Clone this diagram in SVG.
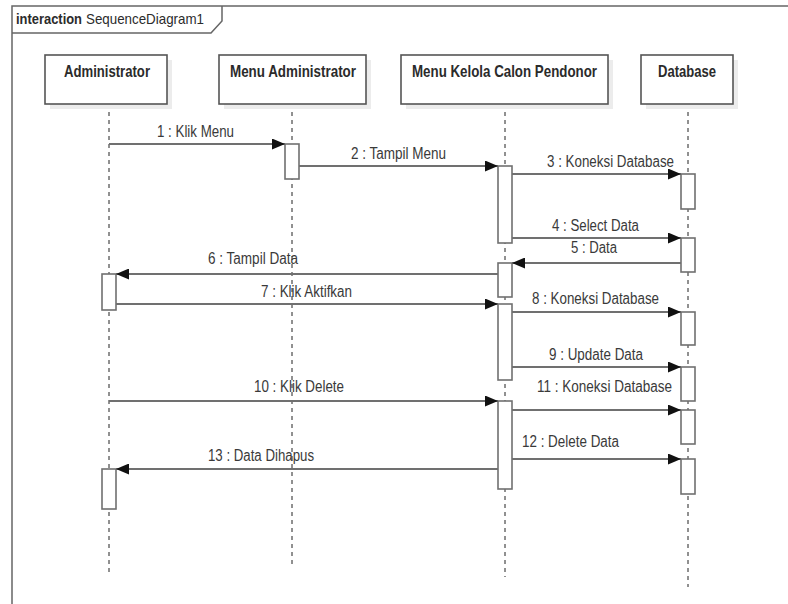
<svg xmlns="http://www.w3.org/2000/svg" width="788" height="604" viewBox="0 0 788 604">
<style>
text{font-family:"Liberation Sans Narrow","Liberation Sans",Arial,sans-serif;fill:#2b2b2b}
.hd{font-size:17px;font-weight:bold;text-anchor:start}
.lb{font-size:16px;fill:#3a3a3a}
.box{fill:#fff;stroke:#555;stroke-width:1.6}
.shadow{fill:#ececec}
.life{stroke:#222;stroke-width:1;stroke-dasharray:4 4;fill:none}
.act{fill:#fff;stroke:#707070;stroke-width:1.6}
.msg{stroke:#707070;stroke-width:2;fill:none;marker-end:url(#arr)}
.frame{fill:none;stroke:#666;stroke-width:1.5}
</style>
<defs>
<marker id="arr" markerUnits="userSpaceOnUse" markerWidth="13" markerHeight="11" refX="13" refY="5.5" orient="auto">
<path d="M0,0 L13,5.5 L0,11 z" fill="#111"/>
</marker>
</defs>
<rect width="788" height="604" fill="#fff"/>
<g id="frame">
<path class="frame" d="M12,604 L12,6 L788,6"/>
<path class="frame" d="M12,33 L211,33 L222,21 L222,6"/>
<text x="16" y="24" style="font-size:15px;font-weight:bold" textLength="66" lengthAdjust="spacingAndGlyphs">interaction</text>
<text x="86" y="24" style="font-size:15px" textLength="118" lengthAdjust="spacingAndGlyphs">SequenceDiagram1</text>
</g>
<g id="lifelines">
<line class="life" x1="109" y1="104" x2="109" y2="575"/>
<line class="life" x1="292" y1="104" x2="292" y2="567"/>
<line class="life" x1="505" y1="104" x2="505" y2="577"/>
<line class="life" x1="688" y1="104" x2="688" y2="587"/>
</g>
<g id="administrator">
<rect class="shadow" x="50" y="60" width="122" height="49"/>
<rect class="box" x="45" y="55" width="122" height="49"/>
<text class="hd" x="64" y="77" textLength="86" lengthAdjust="spacingAndGlyphs">Administrator</text>
</g>
<g id="menu-administrator">
<rect class="shadow" x="224" y="60" width="147" height="49"/>
<rect class="box" x="219" y="55" width="147" height="49"/>
<text class="hd" x="230" y="77" textLength="126" lengthAdjust="spacingAndGlyphs">Menu Administrator</text>
</g>
<g id="menu-kelola-calon-pendonor">
<rect class="shadow" x="406" y="60" width="207" height="49"/>
<rect class="box" x="401" y="55" width="207" height="49"/>
<text class="hd" x="412" y="77" textLength="185" lengthAdjust="spacingAndGlyphs">Menu Kelola Calon Pendonor</text>
</g>
<g id="database">
<rect class="shadow" x="646" y="60" width="92" height="49"/>
<rect class="box" x="641" y="55" width="92" height="49"/>
<text class="hd" x="658" y="77" textLength="58" lengthAdjust="spacingAndGlyphs">Database</text>
</g>
<g id="activations">
<rect class="act" x="285" y="144" width="14" height="35"/>
<rect class="act" x="498" y="166" width="14" height="77"/>
<rect class="act" x="498" y="263" width="14" height="34"/>
<rect class="act" x="498" y="304" width="14" height="76"/>
<rect class="act" x="498" y="401" width="14" height="88"/>
<rect class="act" x="681" y="174" width="14" height="35"/>
<rect class="act" x="681" y="238" width="14" height="34"/>
<rect class="act" x="681" y="312" width="14" height="33"/>
<rect class="act" x="681" y="367" width="14" height="34"/>
<rect class="act" x="681" y="410" width="14" height="34"/>
<rect class="act" x="681" y="459" width="14" height="35"/>
<rect class="act" x="102" y="274" width="14" height="36"/>
<rect class="act" x="102" y="469" width="14" height="40"/>
</g>
<g id="connectors">
<line class="msg" x1="109" y1="144" x2="285" y2="144"/>
<line class="msg" x1="299" y1="166" x2="498" y2="166"/>
<line class="msg" x1="512" y1="174" x2="681" y2="174"/>
<line class="msg" x1="512" y1="238" x2="681" y2="238"/>
<line class="msg" x1="681" y1="263" x2="512" y2="263"/>
<line class="msg" x1="498" y1="274" x2="116" y2="274"/>
<line class="msg" x1="116" y1="304" x2="498" y2="304"/>
<line class="msg" x1="512" y1="312" x2="681" y2="312"/>
<line class="msg" x1="512" y1="367" x2="681" y2="367"/>
<line class="msg" x1="109" y1="401" x2="498" y2="401"/>
<line class="msg" x1="512" y1="410" x2="681" y2="410"/>
<line class="msg" x1="512" y1="459" x2="681" y2="459"/>
<line class="msg" x1="498" y1="469" x2="116" y2="469"/>
</g>
<g id="labels">
<text class="lb" x="157" y="137" textLength="77" lengthAdjust="spacingAndGlyphs">1 : Klik Menu</text>
<text class="lb" x="351" y="159" textLength="95" lengthAdjust="spacingAndGlyphs">2 : Tampil Menu</text>
<text class="lb" x="547" y="167" textLength="127" lengthAdjust="spacingAndGlyphs">3 : Koneksi Database</text>
<text class="lb" x="552" y="231" textLength="87" lengthAdjust="spacingAndGlyphs">4 : Select Data</text>
<text class="lb" x="571" y="253" textLength="46" lengthAdjust="spacingAndGlyphs">5 : Data</text>
<text class="lb" x="208" y="264" textLength="90" lengthAdjust="spacingAndGlyphs">6 : Tampil Data</text>
<text class="lb" x="261" y="297" textLength="91" lengthAdjust="spacingAndGlyphs">7 : Klik Aktifkan</text>
<text class="lb" x="532" y="304" textLength="127" lengthAdjust="spacingAndGlyphs">8 : Koneksi Database</text>
<text class="lb" x="549" y="360" textLength="94" lengthAdjust="spacingAndGlyphs">9 : Update Data</text>
<text class="lb" x="254" y="392" textLength="90" lengthAdjust="spacingAndGlyphs">10 : Klik Delete</text>
<text class="lb" x="537" y="392" textLength="135" lengthAdjust="spacingAndGlyphs">11 : Koneksi Database</text>
<text class="lb" x="522" y="447" textLength="97" lengthAdjust="spacingAndGlyphs">12 : Delete Data</text>
<text class="lb" x="208" y="461" textLength="106" lengthAdjust="spacingAndGlyphs">13 : Data Dihapus</text>
</g>
</svg>
